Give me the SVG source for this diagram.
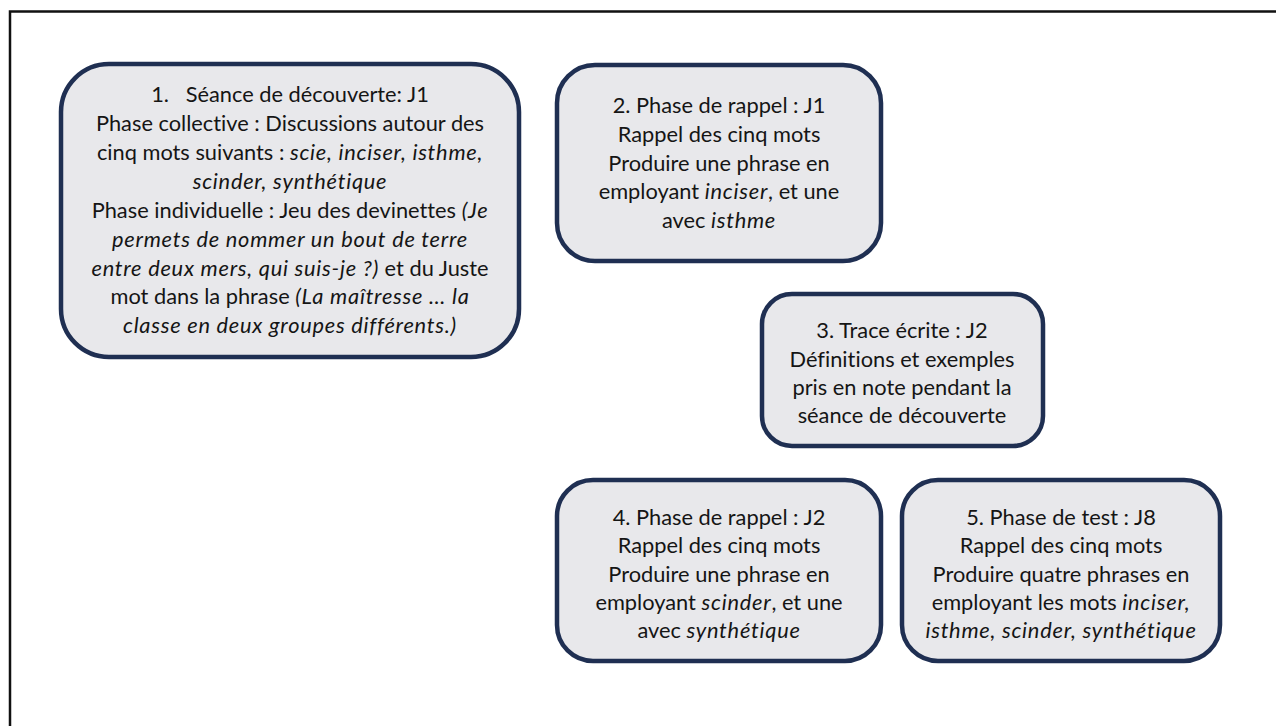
<svg xmlns="http://www.w3.org/2000/svg" width="1276" height="726" viewBox="0 0 1276 726">
<style>
.node{fill:#E8E8EB;stroke:#1F2F52;stroke-width:4.5}
.t{font-family:Lato,"Open Sans","Liberation Sans",sans-serif;font-size:21.8px;fill:#151515;text-anchor:middle;font-variant-ligatures:none}
.i{font-style:italic;letter-spacing:0.75px}
</style>
<rect x="0" y="0" width="1276" height="726" fill="#ffffff"/>
<path d="M10 730 V11.5 H1280" fill="none" stroke="#111" stroke-width="2.5"/>
<g id="connectors"></g>
<g id="node1">
<rect class="node" x="61" y="64" width="458" height="293" rx="48"/>
<text class="t" x="290" y="102"><tspan xml:space="preserve">1.   Séance de découverte: J1</tspan></text>
<text class="t" x="290" y="131">Phase collective : Discussions autour des</text>
<text class="t" x="290" y="160">cinq mots suivants : <tspan class="i">scie, inciser, isthme,</tspan></text>
<text class="t i" x="290" y="189">scinder, synthétique</text>
<text class="t" x="290" y="218">Phase individuelle : Jeu des devinettes <tspan class="i">(Je</tspan></text>
<text class="t i" x="290" y="247">permets de nommer un bout de terre</text>
<text class="t" x="290" y="276"><tspan class="i">entre deux mers, qui suis-je ?)</tspan> et du Juste</text>
<text class="t" x="290" y="304">mot dans la phrase <tspan class="i">(La maîtresse … la</tspan></text>
<text class="t i" x="290" y="333">classe en deux groupes différents.)</text>
</g>
<g id="node2">
<rect class="node" x="557" y="65" width="324" height="196" rx="38"/>
<text class="t" x="719" y="113">2. Phase de rappel : J1</text>
<text class="t" x="719" y="142">Rappel des cinq mots</text>
<text class="t" x="719" y="171">Produire une phrase en</text>
<text class="t" x="719" y="199">employant <tspan class="i">inciser</tspan>, et une</text>
<text class="t" x="719" y="228">avec <tspan class="i">isthme</tspan></text>
</g>
<g id="node3">
<rect class="node" x="762" y="294" width="281" height="152" rx="30"/>
<text class="t" x="902" y="338">3. Trace écrite : J2</text>
<text class="t" x="902" y="367">Définitions et exemples</text>
<text class="t" x="902" y="395">pris en note pendant la</text>
<text class="t" x="902" y="423">séance de découverte</text>
</g>
<g id="node4">
<rect class="node" x="557" y="480" width="324" height="181" rx="36"/>
<text class="t" x="719" y="525">4. Phase de rappel : J2</text>
<text class="t" x="719" y="553">Rappel des cinq mots</text>
<text class="t" x="719" y="582">Produire une phrase en</text>
<text class="t" x="719" y="610">employant <tspan class="i">scinder</tspan>, et une</text>
<text class="t" x="719" y="638">avec <tspan class="i">synthétique</tspan></text>
</g>
<g id="node5">
<rect class="node" x="902" y="480" width="318" height="181" rx="36"/>
<text class="t" x="1061" y="525">5. Phase de test : J8</text>
<text class="t" x="1061" y="553">Rappel des cinq mots</text>
<text class="t" x="1061" y="582">Produire quatre phrases en</text>
<text class="t" x="1061" y="610">employant les mots <tspan class="i">inciser,</tspan></text>
<text class="t i" x="1061" y="638">isthme, scinder, synthétique</text>
</g>
</svg>
